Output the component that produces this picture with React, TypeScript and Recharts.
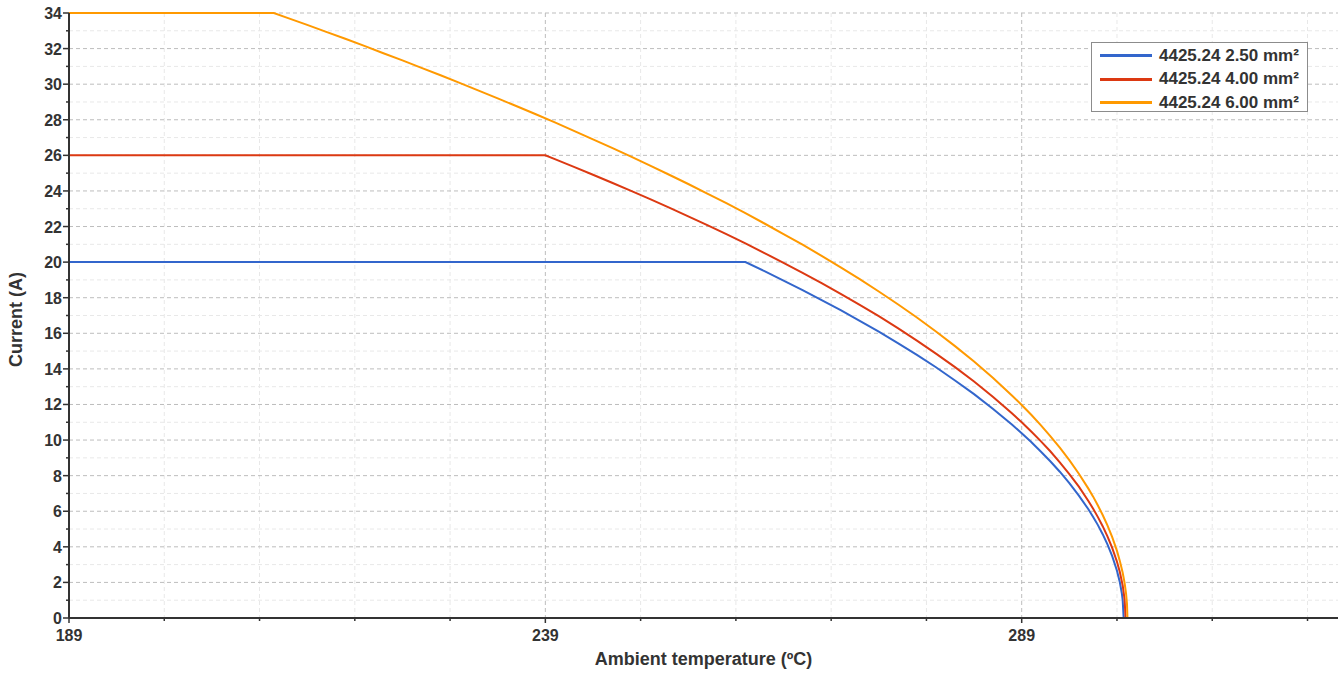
import React from 'react';
import { LineChart, Line, XAxis, YAxis, CartesianGrid, Legend } from 'recharts';

// ---- data ----
const blueTemps = [189, 260, 262, 264, 266, 268, 270, 272, 274, 276, 278, 280, 282, 284, 286, 288, 289, 290, 291, 292, 293, 294, 295, 296, 296.5, 297, 297.5, 298, 298.5, 299, 299.3, 299.5, 299.6, 299.7];
const blueValues = [20, 20, 19.49, 18.96, 18.43, 17.87, 17.3, 16.7, 16.09, 15.45, 14.79, 14.09, 13.35, 12.58, 11.75, 10.86, 10.38, 9.89, 9.36, 8.81, 8.22, 7.58, 6.88, 6.11, 5.68, 5.22, 4.71, 4.14, 3.48, 2.66, 2.01, 1.42, 1.0, 0];

const redTemps = [189, 239, 240, 242, 244, 246, 248, 250, 252, 254, 256, 258, 260, 262, 264, 266, 268, 270, 272, 274, 276, 278, 280, 282, 284, 286, 288, 289, 290, 291, 292, 293, 294, 295, 296, 296.5, 297, 297.5, 298, 298.5, 299, 299.3, 299.6, 299.8, 299.9];
const redValues = [26, 26, 25.79, 25.35, 24.91, 24.46, 24.0, 23.54, 23.06, 22.57, 22.08, 21.57, 21.05, 20.51, 19.96, 19.4, 18.82, 18.22, 17.6, 16.96, 16.29, 15.59, 14.86, 14.1, 13.29, 12.42, 11.49, 11.0, 10.48, 9.94, 9.37, 8.75, 8.09, 7.38, 6.58, 6.14, 5.67, 5.16, 4.59, 3.94, 3.16, 2.58, 1.83, 1.05, 0];

const orangeTemps = [189, 210.5, 212, 214, 216, 218, 220, 222, 224, 226, 228, 230, 232, 234, 236, 238, 240, 242, 244, 246, 248, 250, 252, 254, 256, 258, 260, 262, 264, 266, 268, 270, 272, 274, 276, 278, 280, 282, 284, 286, 288, 289, 290, 291, 292, 293, 294, 295, 296, 296.5, 297, 297.5, 298, 298.5, 299, 299.3, 299.6, 299.8, 299.95, 300.05, 300.1];
const orangeValues = [34, 34, 33.71, 33.33, 32.94, 32.55, 32.15, 31.74, 31.34, 30.92, 30.5, 30.07, 29.64, 29.2, 28.76, 28.31, 27.85, 27.38, 26.9, 26.42, 25.93, 25.42, 24.91, 24.39, 23.85, 23.31, 22.75, 22.17, 21.58, 20.98, 20.35, 19.71, 19.04, 18.35, 17.63, 16.89, 16.1, 15.28, 14.41, 13.49, 12.49, 11.97, 11.42, 10.84, 10.22, 9.57, 8.87, 8.11, 7.27, 6.82, 6.32, 5.79, 5.21, 4.54, 3.77, 3.21, 2.54, 1.97, 1.39, 0.8, 0];

const seriesNames = ['4425.24 2.50 mm²', '4425.24 4.00 mm²', '4425.24 6.00 mm²'];
const seriesColors = ['#3366CC', '#DC3912', '#FF9900'];

const xTicks = [189, 199, 209, 219, 229, 239, 249, 259, 269, 279, 289, 299, 309, 319];
const xLabelTicks = [189, 239, 289];
const xMinorGrid = [199, 209, 219, 229, 249, 259, 269, 279, 299, 309, 319];
const xMajorGrid = [239, 289];
const yTicks = Array.from({ length: 35 }, (_, i) => i);
const yMajorGrid = [2, 4, 6, 8, 10, 12, 14, 16, 18, 20, 22, 24, 26, 28, 30, 32, 34];
const yMinorGrid = [1, 3, 5, 7, 9, 11, 13, 15, 17, 19, 21, 23, 25, 27, 29, 31, 33];

const xTitle = 'Ambient temperature (ºC)';
const yTitle = 'Current (A)';

const build = (ts: number[], vs: number[]) => ts.map((t, i) => ({ t, v: vs[i] }));
const seriesData = [build(blueTemps, blueValues), build(redTemps, redValues), build(orangeTemps, orangeValues)];

const FONT = '"Liberation Sans", Arial, Helvetica, sans-serif';
const TEXT = '#333333';

const XTick = (props: any) => {
  const { x, y, payload } = props;
  const major = xLabelTicks.includes(payload.value);
  return (
    <g>
      <line x1={x} x2={x} y1={y} y2={y + (major ? 5 : 3)} stroke={TEXT} strokeWidth={1.5} />
      {major && (
        <text x={x} y={y + 23} textAnchor="middle" fontFamily={FONT} fontWeight="bold" fontSize={16} fill={TEXT}>
          {payload.value}
        </text>
      )}
    </g>
  );
};

const YTick = (props: any) => {
  const { x, y, payload } = props;
  const major = payload.value % 2 === 0;
  return (
    <g>
      <line x1={x} x2={x - (major ? 6 : 3)} y1={y} y2={y} stroke={TEXT} strokeWidth={1.5} />
      {major && (
        <text x={x - 7} y={y + 6} textAnchor="end" fontFamily={FONT} fontWeight="bold" fontSize={16} fill={TEXT}>
          {payload.value}
        </text>
      )}
    </g>
  );
};

const LegendBox = () => (
  <div
    style={{
      width: 217,
      height: 70,
      boxSizing: 'border-box',
      border: '1px solid #8c8c8c',
      background: '#fff',
      paddingTop: 1,
    }}
  >
    {seriesNames.map((n, i) => (
      <div key={n} style={{ display: 'flex', alignItems: 'center', height: 23.5, paddingLeft: 8 }}>
        <div style={{ width: 52, height: 3, background: seriesColors[i], marginRight: 7 }} />
        <span style={{ fontFamily: FONT, fontWeight: 'bold', fontSize: 17, color: TEXT, whiteSpace: 'nowrap' }}>{n}</span>
      </div>
    ))}
  </div>
);

export default function App() {
  return (
    <div style={{ position: 'absolute', left: 0, top: 0, width: 1338, height: 673, background: '#fff' }}>
      <LineChart width={1338} height={673} margin={{ top: 13, right: 0, bottom: 0, left: 0 }}>
        <CartesianGrid
          horizontalValues={yMinorGrid}
          verticalValues={xMinorGrid}
          stroke="#e8e8e8"
          strokeDasharray="4 3"
        />
        <CartesianGrid
          horizontalValues={yMajorGrid}
          verticalValues={xMajorGrid}
          stroke="#bdbdbd"
          strokeDasharray="4 3"
        />
        <XAxis
          type="number"
          dataKey="t"
          domain={[189, 322.2]}
          ticks={xTicks}
          interval={0}
          allowDataOverflow
          height={55}
          tickSize={0}
          tickMargin={0}
          tickLine={false}
          axisLine={{ stroke: TEXT, strokeWidth: 2 }}
          tick={<XTick />}
          label={{
            content: (p: any) => {
              const vb = p.viewBox || { x: 69, y: 618, width: 1269 };
              return (
                <text x={vb.x + vb.width / 2} y={vb.y + 47} textAnchor="middle" fontFamily={FONT} fontWeight="bold" fontSize={18} fill={TEXT}>
                  {xTitle}
                </text>
              );
            },
          }}
        />
        <YAxis
          type="number"
          domain={[0, 34]}
          ticks={yTicks}
          interval={0}
          width={69}
          tickSize={0}
          tickMargin={0}
          tickLine={false}
          axisLine={{ stroke: TEXT, strokeWidth: 2 }}
          tick={<YTick />}
          label={{
            content: (p: any) => {
              const vb = p.viewBox || { x: 0, y: 13, height: 605 };
              const cy = vb.y + vb.height / 2 + 4;
              return (
                <text x={22} y={cy} transform={`rotate(-90, 22, ${cy})`} textAnchor="middle" fontFamily={FONT} fontWeight="bold" fontSize={18} fill={TEXT}>
                  {yTitle}
                </text>
              );
            },
          }}
        />
        {seriesData.map((d, i) => (
          <Line
            key={seriesNames[i]}
            data={d}
            dataKey="v"
            name={seriesNames[i]}
            type="linear"
            stroke={seriesColors[i]}
            strokeWidth={2}
            dot={false}
            activeDot={false}
            isAnimationActive={false}
          />
        ))}
        <Legend
          layout="vertical"
          align="center"
          verticalAlign="middle"
          content={<LegendBox />}
          wrapperStyle={{ position: 'absolute', left: 1091, top: 42, width: 217, height: 70 }}
        />
      </LineChart>
    </div>
  );
}
